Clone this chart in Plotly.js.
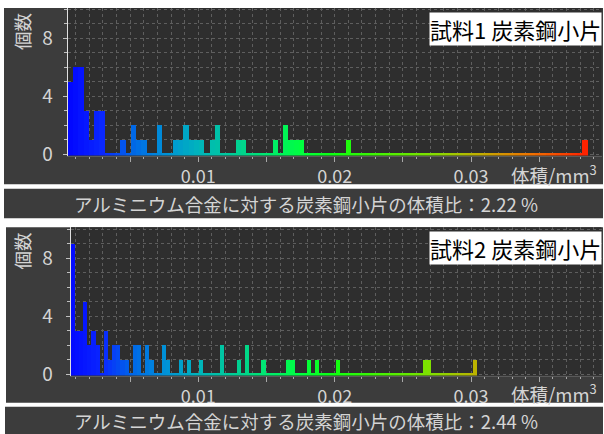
<!DOCTYPE html>
<html><head><meta charset="utf-8">
<script src="https://cdn.plot.ly/plotly-3.0.1.min.js"></script>
<style>html,body{margin:0;padding:0;background:#fff}</style>
</head><body><div id="chart" style="width:604px;height:434px"></div>
<script>
// ---- data ----
const panelTitles = ['試料1 炭素鋼小片', '試料2 炭素鋼小片'];
const captions = ['アルミニウム合金に対する炭素鋼小片の体積比：2.22 %',
                  'アルミニウム合金に対する炭素鋼小片の体積比：2.44 %'];
const yTitle = '個数';
const xTitle = '体積/mm<sup>3</sup>';
const xTickVals = [0.005, 0.01, 0.015, 0.02, 0.025, 0.03, 0.035];
const xTickText = ['', '0.01', '', '0.02', '', '0.03', ''];
const yTickVals = [0, 4, 8];

// sample 1 histogram (bin start, bin width, number of bins, occupied bins, counts)
const binStart1 = 0.00043, binWidth1 = 0.000385, nBins1 = 99;
const bins1   = [0,1,2,3,4,5,6,10,12,13,14,17,20,21,22,23,24,25,27,28,32,33,39,41,42,43,44,53,98];
const counts1 = [5,6,6,3,1,3,3,1, 2, 1, 1, 2, 1, 1, 2, 1, 1, 1, 1, 2, 1, 1, 1, 2, 1, 1, 1, 1, 1];

// sample 2 histogram
const binStart2 = 0.000645, binWidth2 = 0.000304, nBins2 = 98;
const bins2   = [0,1,2,3,4,5,6,8,9,10,11,12,13,15,16,18,19,22,23,26,28,31,36,40,42,46,52,53,57,59,64,85,86,97];
const counts2 = [9,3,3,5,2,3,2,3,1,2, 2, 1, 1, 2, 2, 2, 1, 2, 1, 1, 1, 1, 2, 1, 2, 1, 1, 1, 1, 1, 1, 1, 1, 1];

// ---- style ----
const FONT = '"Noto Sans CJK JP", "Noto Sans", sans-serif';
const TXT = '#d4d4d4';
const GRID = '#5e5e5e';
const OUTER = '#3c3c3c';
const PLOTBG = '#2e2e2e';
const cscale = [
  [0, '#0000ff'], [0.075, '#0a28ff'], [0.125, '#0064e8'], [0.1875, '#0090d8'],
  [0.25, '#00b4bc'], [0.3125, '#00cc98'], [0.375, '#00e870'], [0.4375, '#00ff40'],
  [0.5, '#10ff10'], [0.6, '#50f000'], [0.675, '#80e000'], [0.7625, '#c0b000'],
  [0.8625, '#f07000'], [0.9625, '#ff2000'], [1, '#ff0000']
];
const W = 604, H = 434;
const px = v => v / W, py = v => 1 - v / H;

function traces(start, width, n, bins, counts, xa, ya) {
  const centers = [], full = new Array(n).fill(0), base = [];
  for (let k = 0; k < n; k++) { centers.push(start + (k + 0.5) * width); base.push(0.14); }
  bins.forEach((b, i) => { full[b] = counts[i]; });
  const common = {type: 'bar', x: centers, width: width, xaxis: xa, yaxis: ya,
    hoverinfo: 'skip', showlegend: false};
  return [
    Object.assign({}, common, {y: base, base: -0.083,
      marker: {color: centers, colorscale: cscale, cmin: 0, cmax: 0.04, line: {width: 0}}}),
    Object.assign({}, common, {y: full,
      marker: {color: centers, colorscale: cscale, cmin: 0, cmax: 0.04, line: {width: 0}}})
  ];
}

function xAxis(domain, range, anchor) {
  return {domain, range, anchor, tickmode: 'array', tickvals: xTickVals, ticktext: xTickText,
    ticks: 'outside', ticklen: 5, tickwidth: 1, tickcolor: '#a8a8a8',
    showgrid: true, gridcolor: GRID, griddash: 'dot', gridwidth: 1,
    minor: {tickmode: 'linear', tick0: 0, dtick: 0.001, ticks: 'outside', ticklen: 2.5,
      tickwidth: 1, tickcolor: '#a8a8a8', showgrid: true, gridcolor: GRID, griddash: 'dot', gridwidth: 1},
    showline: true, linecolor: '#5a5a5a', linewidth: 1, layer: 'below traces', zeroline: false,
    tickfont: {family: FONT, size: 18, color: TXT}, fixedrange: true};
}
function yAxis(domain, range, anchor, standoff) {
  return {domain, range, anchor, tickmode: 'array', tickvals: yTickVals,
    ticks: 'outside', ticklen: 4, tickwidth: 1, tickcolor: '#c0c0c0',
    showgrid: true, gridcolor: GRID, griddash: 'dot', gridwidth: 1,
    minor: {tickmode: 'linear', tick0: 0, dtick: 1, ticks: 'outside', ticklen: 3,
      tickwidth: 1, tickcolor: '#c0c0c0', showgrid: true, gridcolor: GRID, griddash: 'dot', gridwidth: 1},
    showline: true, linecolor: '#e0e0e0', linewidth: 1, layer: 'above traces', zeroline: false,
    ticklabelstandoff: standoff,
    tickfont: {family: FONT, size: 19, color: TXT}, fixedrange: true};
}

const data = [].concat(
  traces(binStart1, binWidth1, nBins1, bins1, counts1, 'x', 'y'),
  traces(binStart2, binWidth2, nBins2, bins2, counts2, 'x2', 'y2')
);

const rect = (x0, y0, x1, y1, c) => ({type: 'rect', xref: 'paper', yref: 'paper', layer: 'below',
  x0: px(x0), x1: px(x1), y0: py(y1), y1: py(y0), fillcolor: c, line: {width: 0}});

const shapes = [
  rect(4, 8, 603, 184.3, OUTER),
  rect(67.7, 8, 601.5, 155.5, PLOTBG),
  rect(4, 188.7, 603, 218.3, OUTER),
  rect(6, 227.3, 603, 402.7, OUTER),
  rect(70.7, 227.3, 601.5, 375.5, PLOTBG),
  rect(5, 406.7, 603, 434, OUTER)
];

const ann = (text, x, y, o) => Object.assign({text, x: px(x), y: py(y), xref: 'paper', yref: 'paper',
  xanchor: 'center', yanchor: 'middle',
  showarrow: false, font: {family: FONT, size: 18.5, color: TXT}}, o || {});

const annotations = [
  ann(yTitle, 21.5, 31.5, {textangle: -90}),
  ann(yTitle, 21.5, 251, {textangle: -90}),
  ann(xTitle, 599, 174, {xanchor: 'right'}),
  ann(xTitle, 599, 393, {xanchor: 'right'}),
  ann(panelTitles[0], 601.5, 12, {xanchor: 'right', yanchor: 'top', bgcolor: '#ffffff', borderpad: 0,
    font: {family: FONT, size: 22, color: '#000000'}}),
  ann(panelTitles[1], 601.5, 231, {xanchor: 'right', yanchor: 'top', bgcolor: '#ffffff', borderpad: 0,
    font: {family: FONT, size: 22, color: '#000000'}}),
  ann(captions[0], 306, 203.5, {}),
  ann(captions[1], 306, 420.5, {})
];

const layout = {
  width: W, height: H, margin: {l: 0, r: 0, t: 0, b: 0},
  paper_bgcolor: '#ffffff', plot_bgcolor: 'rgba(0,0,0,0)',
  barmode: 'overlay', bargap: 0, showlegend: false,
  xaxis: xAxis([px(67.7), px(601.5)], [0.000425, 0.03956], 'y'),
  yaxis: yAxis([py(155.5), py(8)], [-0.083, 10.09], 'x', 6),
  xaxis2: xAxis([px(70.7), px(601.5)], [0.000645, 0.03956], 'y2'),
  yaxis2: yAxis([py(375.5), py(227.3)], [-0.083, 10.14], 'x2', 9),
  shapes, annotations
};

Plotly.newPlot('chart', data, layout, {staticPlot: true, displayModeBar: false});
</script></body></html>
